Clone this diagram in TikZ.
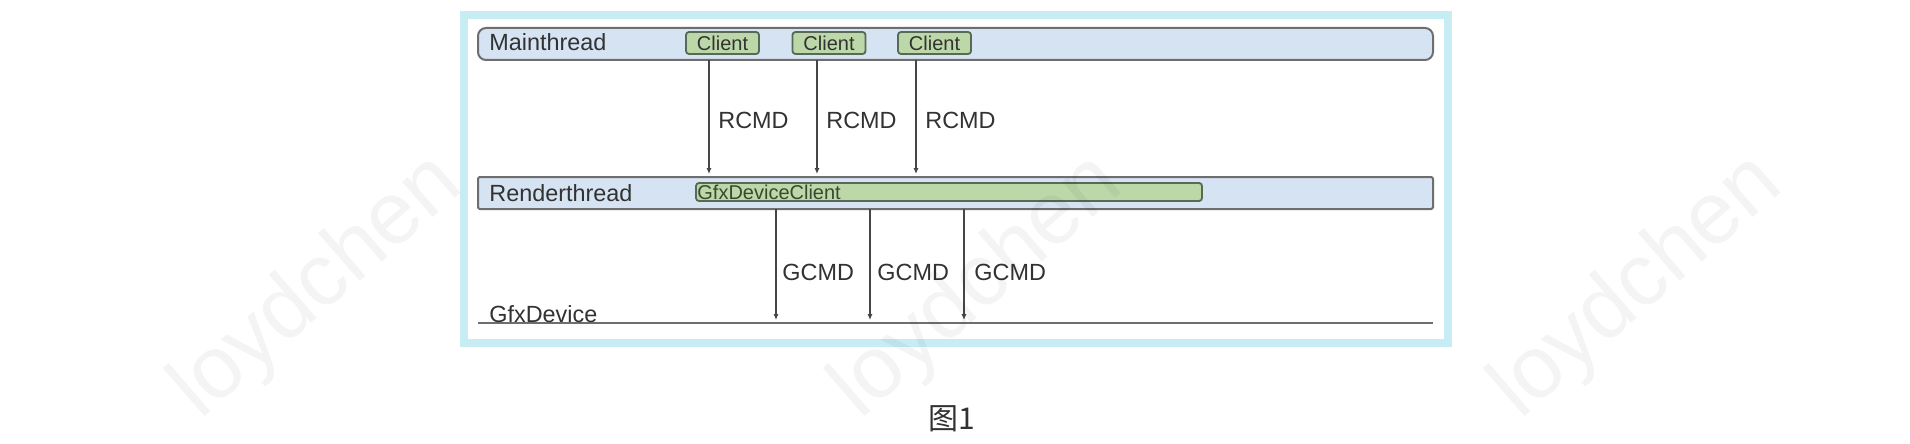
\documentclass[tikz,border=0pt]{standalone}
\usepackage{fontspec}
\setmainfont{Liberation Sans}
\newfontfamily\cjkfont{Noto Sans CJK SC}
\usetikzlibrary{arrows.meta}
\definecolor{framecyan}{RGB}{200,236,244}
\definecolor{barblue}{RGB}{213,227,242}
\definecolor{bargreen}{RGB}{188,216,168}
\definecolor{edgegray}{RGB}{110,110,110}
\definecolor{clientedge}{RGB}{90,104,86}
\definecolor{txtgray}{RGB}{50,50,50}
\definecolor{greentxt}{RGB}{58,72,50}
\definecolor{arrgray}{RGB}{70,70,70}
\begin{document}
\begin{tikzpicture}[x=0.5pt,y=-0.5pt,
  threadbar/.style={draw=edgegray, line width=1pt, fill=barblue, inner sep=0pt, outer sep=0pt,
    anchor=north west, minimum width=477.5pt, minimum height=16pt},
  clientbox/.style={draw=clientedge, line width=0.9pt, fill=bargreen, rounded corners=1.5pt,
    minimum width=36.5pt, minimum height=11pt, inner sep=0pt, outer sep=0pt,
    font=\fontsize{10}{12}\selectfont, text=txtgray},
  lbl/.style={font=\fontsize{11.7}{14}\selectfont, text=txtgray, inner sep=0pt, anchor=west},
  arr/.style={draw=arrgray, line width=0.75pt, -{Latex[length=3pt,width=2.6pt]}, shorten >=1.5pt},
  watermark/.style={font=\fontsize{44}{52}\selectfont, text=black, text opacity=0.045, rotate=41}
]
\useasboundingbox (0,0) rectangle (1910,444);
\fill[white] (0,0) rectangle (1910,444);

% outer frame
\node[draw=framecyan, line width=4pt, inner sep=0pt, outer sep=0pt, anchor=north west,
  minimum width=492pt, minimum height=164pt] (frame) at (464,15) {};

% thread bars
\node[threadbar, rounded corners=4pt] (main) at (478,28) {};
\node[threadbar, rounded corners=1pt] (render) at (478,177) {};

% labels of bars
\node[lbl] (mt) at (489,42) {Mainthread};
\node[lbl] (rt) at (489,193) {Renderthread};

% clients
\node[clientbox] (c1) at (722.5,43) {Client};
\node[clientbox] (c2) at (829,43) {Client};
\node[clientbox] (c3) at (934.5,43) {Client};

% GfxDeviceClient bar
\node[draw=clientedge, line width=0.9pt, fill=bargreen, rounded corners=1.5pt, inner sep=0pt, outer sep=0pt,
  anchor=north west, minimum width=253pt, minimum height=9pt] (gdc) at (696,183) {};
\node[font=\fontsize{10}{12}\selectfont, text=greentxt, inner sep=0pt, anchor=west] (gdctext) at (697,192) {GfxDeviceClient};

% GfxDevice line
\coordinate (gl) at (478,323);
\coordinate (gr) at (1433,323);
\draw[draw=edgegray, line width=1pt] (gl) -- (gr);
\node[font=\fontsize{11.7}{14}\selectfont, text=txtgray, inner sep=0pt, anchor=base west] (gd) at (489,322) {GfxDevice};

% RCMD arrows
\coordinate (x1) at (709,0);
\coordinate (x2) at (817,0);
\coordinate (x3) at (916,0);
\draw[arr] (main.south -| x1) -- (render.north -| x1);
\draw[arr] (main.south -| x2) -- (render.north -| x2);
\draw[arr] (main.south -| x3) -- (render.north -| x3);
\node[lbl] (r1) at (718,120) {RCMD};
\node[lbl] (r2) at (826,120) {RCMD};
\node[lbl] (r3) at (925,120) {RCMD};

% GCMD arrows
\coordinate (y1) at (776,0);
\coordinate (y2) at (870,0);
\coordinate (y3) at (964,0);
\draw[arr] (render.south -| y1) -- (gl -| y1);
\draw[arr] (render.south -| y2) -- (gl -| y2);
\draw[arr] (render.south -| y3) -- (gl -| y3);
\node[lbl] (g1) at (782,272) {GCMD};
\node[lbl] (g2) at (877,272) {GCMD};
\node[lbl] (g3) at (974,272) {GCMD};

% caption
\node[font=\cjkfont\fontsize{15}{18}\selectfont, text=txtgray, inner sep=0pt] (cap) at (952,419) {图1};

% watermarks
\node[watermark] (wm1) at (318,288) {loydchen};
\node[watermark] (wm2) at (978,288) {loydchen};
\node[watermark] (wm3) at (1638,288) {loydchen};
\end{tikzpicture}
\end{document}
